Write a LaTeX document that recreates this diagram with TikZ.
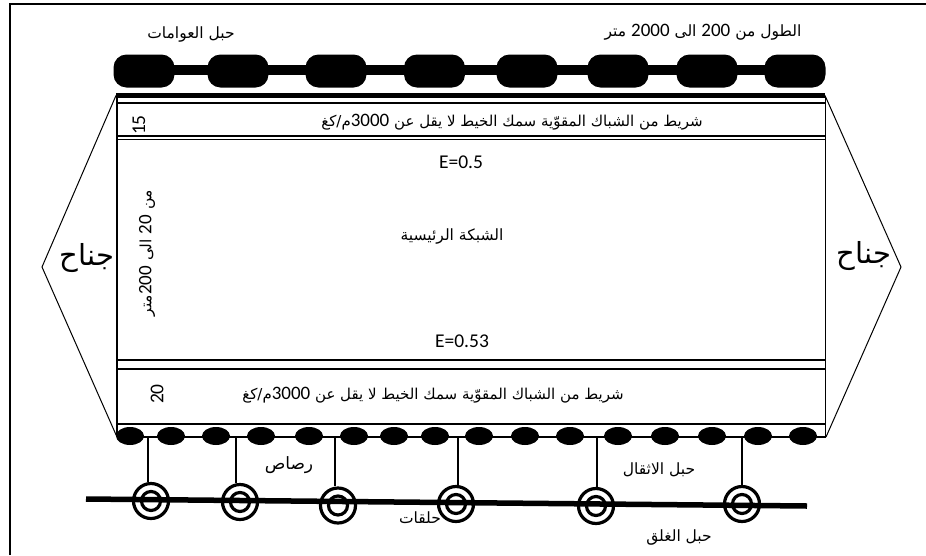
\documentclass[tikz,border=0pt]{standalone}
\usepackage{fontspec}
\setmainfont{Carlito}
\newfontfamily\arabicfont[Script=Arabic]{DejaVu Sans}
\TeXXeTstate=1
\usetikzlibrary{positioning, shapes.geometric}
\newcommand{\ar}[1]{{\arabicfont\beginR #1\endR}}
\newcommand{\dg}[1]{\beginL{\normalfont\fontsize{19}{21}\selectfont #1}\endL{}}
\tikzstyle{frameline} = [line width=2pt]
\tikzstyle{net} = [line width=1.4pt]
\tikzstyle{wing} = [line width=1pt]
\tikzstyle{float} = [rectangle, rounded corners=13pt, minimum width=61pt, minimum height=33pt, fill=black, inner sep=0pt]
\tikzstyle{lead} = [ellipse, minimum width=28pt, minimum height=18pt, fill=black, inner sep=0pt]
\tikzstyle{ringout} = [circle, draw=black, line width=3.2pt, minimum size=35pt, inner sep=0pt]
\tikzstyle{ringin} = [circle, draw=black, line width=3.2pt, minimum size=19pt, inner sep=0pt]
\tikzstyle{label} = [inner sep=0pt, font=\fontsize{15.5}{18}\selectfont]
\tikzstyle{bandtext} = [inner sep=0pt, font=\fontsize{15}{18}\selectfont]
\tikzstyle{wide} = [inner sep=0pt, font=\fontsize{29}{33}\selectfont]
\tikzstyle{latin} = [inner sep=0pt, font=\fontsize{19.5}{22}\selectfont]
\begin{document}
\begin{tikzpicture}[x=1pt,y=-1pt]
		\useasboundingbox (0,0) rectangle (926,555);
		% frame
		\coordinate (frameA) at (10,555);
		\coordinate (frameB) at (10,4);
		\coordinate (frameC) at (926,4);
		\draw [frameline] (frameA) -- (frameB) -- (frameC);
		% top rope and floats
		\coordinate (ropeL) at (140,70);
		\coordinate (ropeR) at (800,70);
		\draw [line width=10pt] (ropeL) -- (ropeR);
		\foreach \i/\x in {1/144,2/238,3/336,4/434.5,5/527,6/618,7/707,8/795} {
			\node (float\i) [float] at (\x,71) {};
		}
		\node (lenlabel) [label] at (703,32) {\ar{الطول من \dg{200} الى \dg{2000} متر}};
		\node (floatlabel) [label] at (191,35) {\ar{حبل العوامات}};
		% net
		\coordinate (topL) at (116,95.5);
		\coordinate (topR) at (825,95.5);
		\coordinate (botL) at (117,437);
		\coordinate (botR) at (826,437);
		\draw [line width=5pt] (topL) -- (topR);
		\draw [net] (117,96) -- (botL);
		\draw [net] (825.5,96) -- (825.5,437);
		\foreach \y in {103,136,139.5,369,424} {
			\draw [net] (117,\y) -- (826,\y);
		}
		\draw [line width=2pt] (117,360) -- (826,360);
		% wings
		\coordinate (tipL) at (42,267);
		\coordinate (tipR) at (901,267);
		\draw [wing] (topL) -- (tipL) -- (botL);
		\draw [wing] (topR) -- (tipR) -- (botR);
		\node (wingL) [wide] at (87,258) {\ar{جناح}};
		\node (wingR) [wide] at (864,256) {\ar{جناح}};
		% net labels
		\node (band1) [bandtext] at (512,122) {\ar{شريط من الشباك المقوّية سمك الخيط لا يقل عن \dg{3000}م/كغ}};
		\node (band2) [bandtext] at (433,395) {\ar{شريط من الشباك المقوّية سمك الخيط لا يقل عن \dg{3000}م/كغ}};
		\node (mainnet) [label] at (452,236) {\ar{الشبكة الرئيسية}};
		\node (mesh1) [latin] at (461,162) {E=0.5};
		\node (mesh2) [latin] at (462,341) {E=0.53};
		\node (h15) [latin, rotate=90] at (139,125) {15};
		\node (h20) [latin, rotate=90] at (157,394) {20};
		\node (depth) [label, rotate=90] at (147,253) {\ar{من \dg{20} الى \dg{200}متر}};
		% lead line
		\draw [line width=2.5pt] (botL) -- (botR);
		\foreach \i/\x in {1/130,2/171,3/216,4/261,5/309,6/354,7/394,8/435,9/479,10/525,11/570,12/618,13/665,14/712,15/758,16/803} {
			\node (lead\i) [lead] at (\x,436) {};
		}
		% purse line and rings
		\coordinate (purseL) at (86,499);
		\coordinate (purseR) at (807,506);
		\foreach \i/\x/\y/\h in {1/151/501/148,2/240/502/236,3/338/505.5/335,4/456/504/458,5/596/506/597,6/742/504/742} {
			\node (out\i) [ringout] at (\x,\y) {};
			\node (in\i) [ringin] at (\x,\y) {};
			\coordinate (hang\i) at (\h,437);
			\draw [line width=1.8pt] (hang\i) -- (hang\i |- out\i.north);
		}
		\draw [line width=5.5pt] (purseL) -- (purseR);
		\node (leadlabel) [label, font=\fontsize{17}{20}\selectfont] at (289,465) {\ar{رصاص}};
		\node (ropelabel) [label] at (659,470) {\ar{حبل الاثقال}};
		\node (ringlabel) [label] at (420,518) {\ar{حلقات}};
		\node (closelabel) [label] at (679,537) {\ar{حبل الغلق}};
	\end{tikzpicture}
\end{document}
